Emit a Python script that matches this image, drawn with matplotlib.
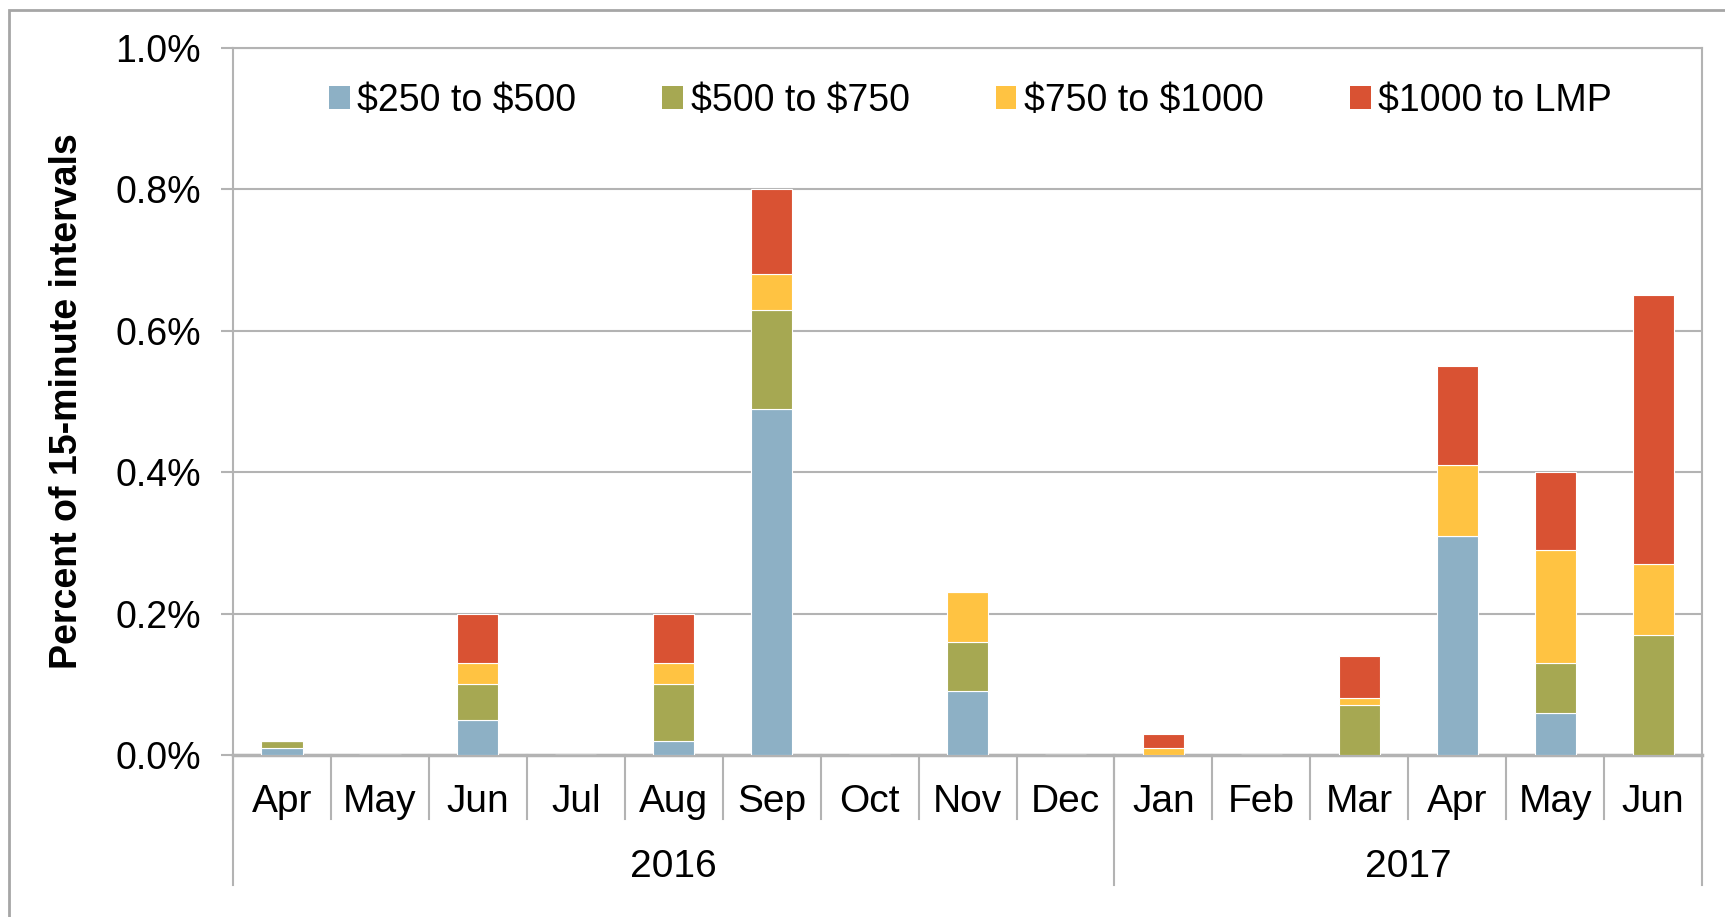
import numpy as np
from matplotlib import pyplot as plt
from matplotlib.patches import Patch, Rectangle
from matplotlib.ticker import FuncFormatter

# month labels and year groups along the x axis
months = ["Apr", "May", "Jun", "Jul", "Aug", "Sep", "Oct", "Nov", "Dec",
          "Jan", "Feb", "Mar", "Apr", "May", "Jun"]
years = ["2016", "2017"]
months_per_year = [9, 6]

# percent of 15-minute intervals in each price band
band_250_500 = [0.01, 0, 0.05, 0, 0.02, 0.49, 0, 0.09, 0, 0, 0, 0, 0.31, 0.06, 0]
band_500_750 = [0.01, 0, 0.05, 0, 0.08, 0.14, 0, 0.07, 0, 0, 0, 0.07, 0, 0.07, 0.17]
band_750_1000 = [0, 0, 0.03, 0, 0.03, 0.05, 0, 0.07, 0, 0.01, 0, 0.01, 0.10, 0.16, 0.10]
band_1000_lmp = [0, 0, 0.07, 0, 0.07, 0.12, 0, 0, 0, 0.02, 0, 0.06, 0.14, 0.11, 0.38]

# dollar signs escaped so they are not read as mathtext
series_names = [r"\$250 to \$500", r"\$500 to \$750", r"\$750 to \$1000",
                r"\$1000 to LMP"]
series_colors = ["#8DB0C5", "#A6A852", "#FFC342", "#D95233"]

grey = "#B3B3B3"
font_size = 27


def main():
    plt.rcParams["font.family"] = ["Liberation Sans", "DejaVu Sans"]
    fig = plt.figure(figsize=(17.25, 9.17), dpi=100)
    ax = fig.add_axes([0.1351, 0.1767, 0.8516, 0.771])

    x = np.arange(len(months))
    bottom = np.zeros(len(months))
    all_series = [band_250_500, band_500_750, band_750_1000, band_1000_lmp]
    for values, color in zip(all_series, series_colors):
        values = np.array(values)
        ax.bar(x, values, width=0.42, bottom=bottom, color=color,
               edgecolor="white", linewidth=0.8, zorder=3)
        bottom += values

    ax.set_xlim(-0.5, len(months) - 0.5)
    ax.set_ylim(0, 1.0)
    ax.set_yticks(np.arange(0, 1.01, 0.2))
    ax.yaxis.set_major_formatter(FuncFormatter(lambda v, p: "%.1f%%" % v))
    ax.tick_params(axis="y", labelsize=font_size, length=9, width=1.5,
                   color=grey, pad=14)
    ax.set_xticks([])
    ax.grid(axis="y", color=grey, linewidth=1.5, zorder=0)
    for side in ["left", "right", "top", "bottom"]:
        ax.spines[side].set_color(grey)
        ax.spines[side].set_linewidth(1.5)
    ax.spines["bottom"].set_linewidth(2.5)

    ax.set_ylabel("Percent of 15-minute intervals", fontsize=font_size,
                  fontweight="bold", labelpad=22)

    # two level category axis: months then years
    trans = ax.get_xaxis_transform()
    for i, m in enumerate(months):
        ax.text(i, -0.066, m, transform=trans, ha="center", va="center",
                fontsize=font_size + 1)
    for pos in np.arange(-0.5, len(months)):
        ax.plot([pos, pos], [0, -0.0905], transform=trans, color=grey,
                linewidth=1.5, clip_on=False)
    start = -0.5
    edges = [start]
    for year, count in zip(years, months_per_year):
        ax.text(start + count / 2, -0.158, year, transform=trans,
                ha="center", va="center", fontsize=font_size + 1)
        start += count
        edges.append(start)
    for pos in edges:
        ax.plot([pos, pos], [0, -0.184], transform=trans, color=grey,
                linewidth=1.5, clip_on=False)

    handles = [Patch(facecolor=c, edgecolor="none") for c in series_colors]
    ax.legend(handles, series_names, loc="center", ncol=4,
              bbox_to_anchor=(0.502, 0.925), frameon=False,
              fontsize=font_size, handlelength=0.55, handleheight=0.55,
              handletextpad=0.2, columnspacing=2.3)

    # outer chart border, cut off by the picture edge
    fig.patches.append(Rectangle((9 / 1725, -0.1), 1.2, 1.089,
                                 transform=fig.transFigure, fill=False,
                                 edgecolor="#A6A6A6", linewidth=2))

    fig.savefig("out.png", dpi=100)


if __name__ == "__main__":
    main()
